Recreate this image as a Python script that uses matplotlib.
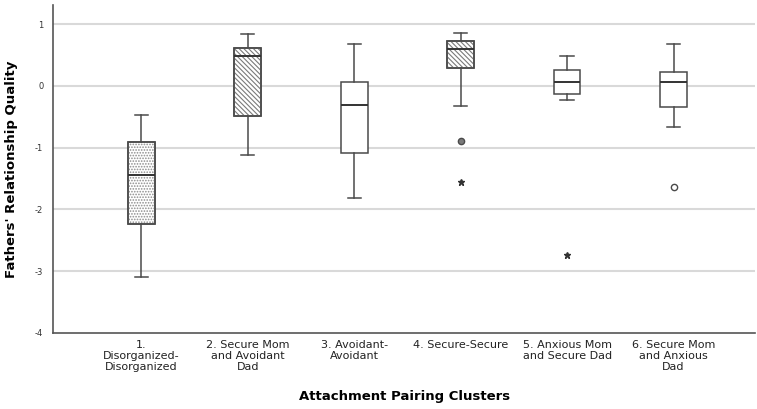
import numpy as np
import matplotlib.pyplot as plt
from matplotlib.patches import PathPatch

# Box statistics
labels = ['1.\nDisorganized-\nDisorganized', '2. Secure Mom\nand Avoidant\nDad',
          '3. Avoidant-\nAvoidant', '4. Secure-Secure',
          '5. Anxious Mom\nand Secure Dad', '6. Secure Mom\nand Anxious\nDad']
whis_lo = [-3.09, -1.12, -1.82, -0.33, -0.23, -0.67]
q1 = [-2.23, -0.49, -1.09, 0.29, -0.14, -0.345]
med = [-1.44, 0.49, -0.31, 0.59, 0.07, 0.054]
q3 = [-0.91, 0.61, 0.065, 0.73, 0.26, 0.22]
whis_hi = [-0.47, 0.84, 0.67, 0.86, 0.49, 0.67]
hatches = ['......', '\\\\\\\\\\\\\\', None, '\\\\\\\\\\\\\\', None, None]

# outliers (circle) and extremes (star)
out_x = [4, 6]
out_y = [-0.90, -1.63]
out_hatched = [True, False]
ext_x = [4, 5]
ext_y = [-1.56, -2.74]

edge = '#4a4a4a'
plt.rcParams['font.family'] = 'DejaVu Sans'
plt.rcParams['axes.unicode_minus'] = False
plt.rcParams['hatch.linewidth'] = 0.8

fig = plt.figure(figsize=(7.57, 4.09), dpi=100)
ax = fig.add_axes([0.070, 0.186, 0.928, 0.802])

stats = []
for i in range(len(labels)):
    stats.append(dict(whislo=whis_lo[i], q1=q1[i], med=med[i], q3=q3[i],
                      whishi=whis_hi[i], fliers=[]))

pos = np.arange(1, len(labels) + 1)
bp = ax.bxp(stats, positions=pos, widths=0.25, patch_artist=True,
            showfliers=False,
            boxprops=dict(facecolor='white', edgecolor=edge, linewidth=1.1),
            whiskerprops=dict(color=edge, linewidth=1.1),
            capprops=dict(color=edge, linewidth=1.1),
            medianprops=dict(color='#333333', linewidth=1.4, zorder=4))

hatch_cols = ['#8c8c8c', '#7a7a7a', None, '#7a7a7a', None, None]
for box, h, hc in zip(bp['boxes'], hatches, hatch_cols):
    box.set_zorder(2)
    if h is None:
        continue
    path = box.get_path()
    ax.add_patch(PathPatch(path, transform=box.get_transform(), facecolor='none',
                           edgecolor=hc, hatch=h, linewidth=0, zorder=2.1))
    ax.add_patch(PathPatch(path, transform=box.get_transform(), facecolor='none',
                           edgecolor=edge, linewidth=1.1, zorder=2.2))

for x, y, hat in zip(out_x, out_y, out_hatched):
    ax.plot(x, y, 'o', ms=4.5, mfc='#7a7a7a' if hat else 'white', mec=edge,
            mew=1.0, zorder=5)
ax.plot(ext_x, ext_y, '*', ms=5, color='#333333', zorder=5)

ax.set_xlim(0.17, 6.77)
ax.set_ylim(-4, 1.31)
ax.set_yticks([1, 0, -1, -2, -3, -4])
ax.set_xticks(pos)
ax.set_xticklabels(labels, fontsize=8, linespacing=1.15, color='#222222')
ax.tick_params(axis='y', labelsize=6, colors='#333333', length=0, pad=7)
ax.tick_params(axis='x', length=0, pad=5)

for yv in [1, 0, -1, -2, -3]:
    ax.axhline(yv, color='#d9d9d9', linewidth=1.5, zorder=0.5)

for s in ['top', 'right']:
    ax.spines[s].set_visible(False)
for s in ['left', 'bottom']:
    ax.spines[s].set_color('#555555')
    ax.spines[s].set_linewidth(1.2)

ax.set_xlabel('Attachment Pairing Clusters', fontsize=9.5, fontweight='bold', labelpad=13)
ax.set_ylabel("Fathers' Relationship Quality", fontsize=9.5, fontweight='bold', labelpad=12)

fig.savefig('out.png', dpi=100)
